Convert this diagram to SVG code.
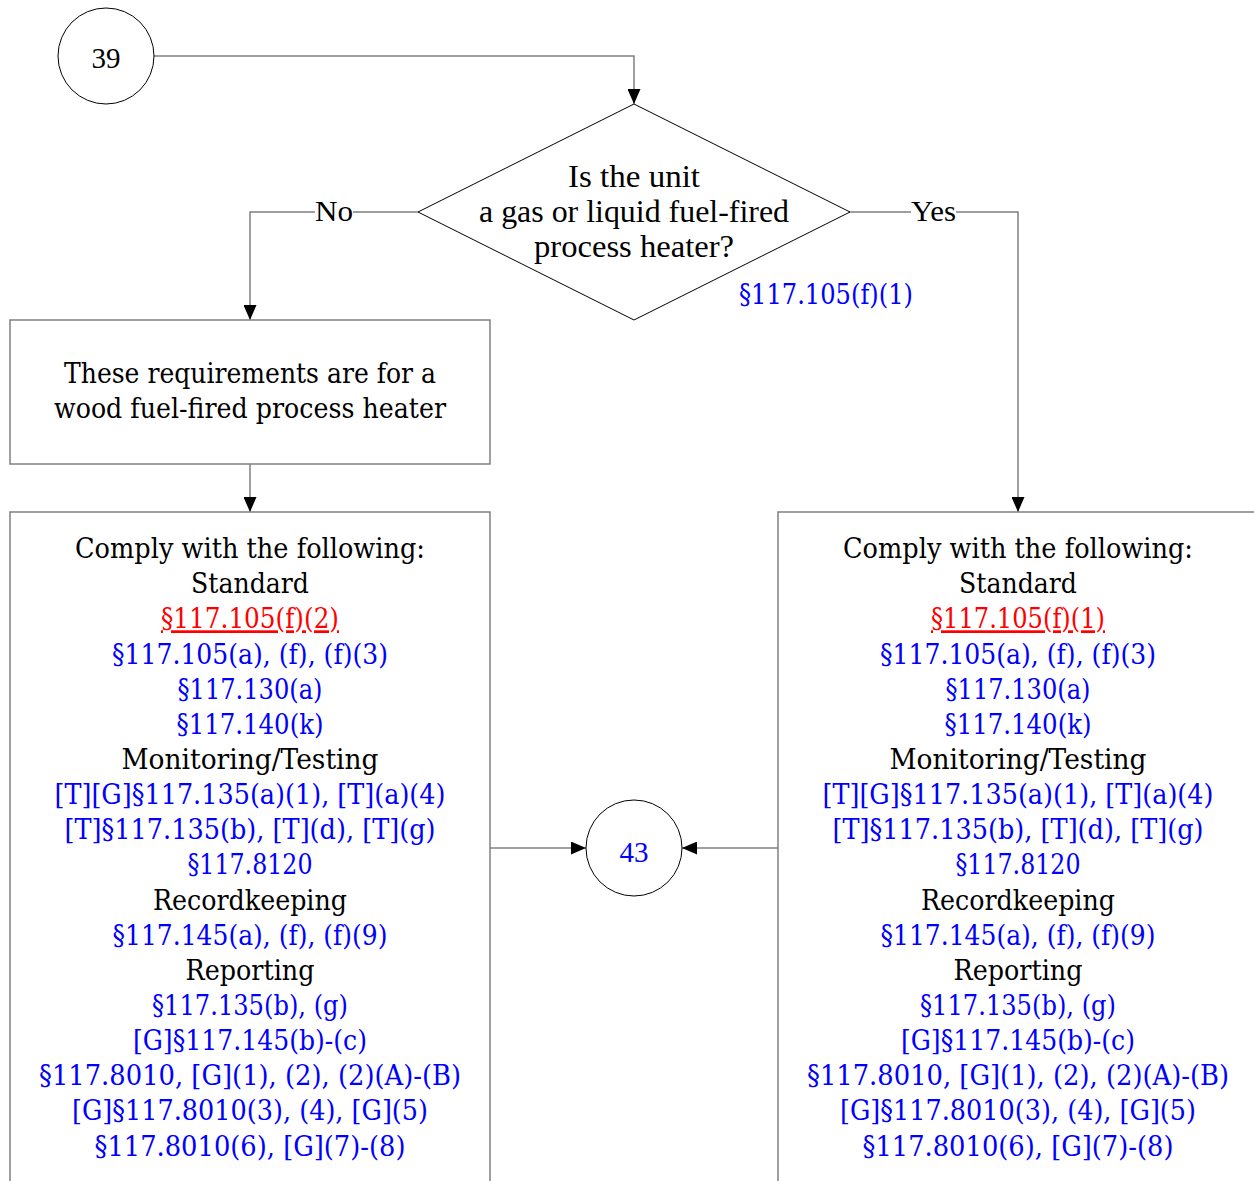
<svg xmlns="http://www.w3.org/2000/svg" width="1254" height="1181" viewBox="0 0 1254 1181">
<defs>
<marker id="arr" markerWidth="15" markerHeight="13" refX="15" refY="6.5" orient="auto" markerUnits="userSpaceOnUse">
<path d="M0,0 L15,6.5 L0,13 Z" fill="#000"/>
</marker>
<style>
.conn{fill:none;stroke:#808080;stroke-width:1.5}
.box{fill:#fff;stroke:#808080;stroke-width:1.5}
.shape{fill:#fff;stroke:#000;stroke-width:1}
.t{font-family:"DejaVu Serif","Liberation Serif",serif;font-size:27px;text-anchor:middle;fill:#000}
.d{font-family:"Liberation Serif","Times New Roman",serif;font-size:31px;text-anchor:middle;fill:#000}
.l{font-family:"Liberation Serif","Times New Roman",serif;font-size:29px;text-anchor:middle;fill:#000}
.b{fill:#0000ff}
.r{fill:#ff0000;text-decoration:underline}
</style>
</defs>
<rect width="1254" height="1181" fill="#fff"/>
<g id="connectors">
<path class="conn" d="M154,56 H634 V104" marker-end="url(#arr)"/>
<path class="conn" d="M418,212 H250 V320" marker-end="url(#arr)"/>
<path class="conn" d="M850,212 H1018 V512" marker-end="url(#arr)"/>
<path class="conn" d="M250,464 V512" marker-end="url(#arr)"/>
<path class="conn" d="M490,848 H586" marker-end="url(#arr)"/>
<path class="conn" d="M778,848 H682" marker-end="url(#arr)"/>
<rect x="315" y="198" width="38" height="28" fill="#fff"/>
<text class="l" x="334" y="221" textLength="38" lengthAdjust="spacingAndGlyphs">No</text>
<rect x="911" y="198" width="45" height="28" fill="#fff"/>
<text class="l" x="933.5" y="221" textLength="45" lengthAdjust="spacingAndGlyphs">Yes</text>
</g>
<g id="n39">
<circle class="shape" cx="106" cy="56" r="48"/>
<text class="l" x="106" y="68" font-size="32">39</text>
</g>
<g id="decision">
<polygon class="shape" points="634,104 850,212 634,320 418,212"/>
<text class="d" x="634" y="187" textLength="132" lengthAdjust="spacingAndGlyphs">Is the unit</text>
<text class="d" x="634" y="222" textLength="310" lengthAdjust="spacingAndGlyphs">a gas or liquid fuel-fired</text>
<text class="d" x="634" y="257" textLength="200" lengthAdjust="spacingAndGlyphs">process heater?</text>
<text class="t b" x="826" y="304" textLength="174" lengthAdjust="spacingAndGlyphs">§117.105(f)(1)</text>
</g>
<g id="wood">
<rect class="box" x="10" y="320" width="480" height="144"/>
<text class="t" x="250" y="383" textLength="372" lengthAdjust="spacingAndGlyphs">These requirements are for a</text>
<text class="t" x="250" y="418" textLength="392" lengthAdjust="spacingAndGlyphs">wood fuel-fired process heater</text>
</g>
<g id="comply-left">
<rect class="box" x="10" y="512" width="480" height="700"/>
<text class="t" x="250" y="558" textLength="350" lengthAdjust="spacingAndGlyphs">Comply with the following:</text>
<text class="t" x="250" y="593.2" textLength="118" lengthAdjust="spacingAndGlyphs">Standard</text>
<text class="t r" x="250" y="628.3" textLength="178" lengthAdjust="spacingAndGlyphs">§117.105(f)(2)</text>
<text class="t b" x="250" y="663.5" textLength="276" lengthAdjust="spacingAndGlyphs">§117.105(a), (f), (f)(3)</text>
<text class="t b" x="250" y="698.6" textLength="145" lengthAdjust="spacingAndGlyphs">§117.130(a)</text>
<text class="t b" x="250" y="733.8" textLength="147" lengthAdjust="spacingAndGlyphs">§117.140(k)</text>
<text class="t" x="250" y="768.9" textLength="257" lengthAdjust="spacingAndGlyphs">Monitoring/Testing</text>
<text class="t b" x="250" y="804.1" textLength="391" lengthAdjust="spacingAndGlyphs">[T][G]§117.135(a)(1), [T](a)(4)</text>
<text class="t b" x="250" y="839.2" textLength="371" lengthAdjust="spacingAndGlyphs">[T]§117.135(b), [T](d), [T](g)</text>
<text class="t b" x="250" y="874.4" textLength="125" lengthAdjust="spacingAndGlyphs">§117.8120</text>
<text class="t" x="250" y="909.5" textLength="194" lengthAdjust="spacingAndGlyphs">Recordkeeping</text>
<text class="t b" x="250" y="944.7" textLength="275" lengthAdjust="spacingAndGlyphs">§117.145(a), (f), (f)(9)</text>
<text class="t" x="250" y="979.8" textLength="129" lengthAdjust="spacingAndGlyphs">Reporting</text>
<text class="t b" x="250" y="1015" textLength="196" lengthAdjust="spacingAndGlyphs">§117.135(b), (g)</text>
<text class="t b" x="250" y="1050.1" textLength="234" lengthAdjust="spacingAndGlyphs">[G]§117.145(b)-(c)</text>
<text class="t b" x="250" y="1085.3" textLength="422" lengthAdjust="spacingAndGlyphs">§117.8010, [G](1), (2), (2)(A)-(B)</text>
<text class="t b" x="250" y="1120.4" textLength="356" lengthAdjust="spacingAndGlyphs">[G]§117.8010(3), (4), [G](5)</text>
<text class="t b" x="250" y="1155.6" textLength="311" lengthAdjust="spacingAndGlyphs">§117.8010(6), [G](7)-(8)</text>
</g>
<g id="comply-right">
<rect class="box" x="778" y="512" width="500" height="700"/>
<text class="t" x="1018" y="558" textLength="350" lengthAdjust="spacingAndGlyphs">Comply with the following:</text>
<text class="t" x="1018" y="593.2" textLength="118" lengthAdjust="spacingAndGlyphs">Standard</text>
<text class="t r" x="1018" y="628.3" textLength="174" lengthAdjust="spacingAndGlyphs">§117.105(f)(1)</text>
<text class="t b" x="1018" y="663.5" textLength="276" lengthAdjust="spacingAndGlyphs">§117.105(a), (f), (f)(3)</text>
<text class="t b" x="1018" y="698.6" textLength="145" lengthAdjust="spacingAndGlyphs">§117.130(a)</text>
<text class="t b" x="1018" y="733.8" textLength="147" lengthAdjust="spacingAndGlyphs">§117.140(k)</text>
<text class="t" x="1018" y="768.9" textLength="257" lengthAdjust="spacingAndGlyphs">Monitoring/Testing</text>
<text class="t b" x="1018" y="804.1" textLength="391" lengthAdjust="spacingAndGlyphs">[T][G]§117.135(a)(1), [T](a)(4)</text>
<text class="t b" x="1018" y="839.2" textLength="371" lengthAdjust="spacingAndGlyphs">[T]§117.135(b), [T](d), [T](g)</text>
<text class="t b" x="1018" y="874.4" textLength="125" lengthAdjust="spacingAndGlyphs">§117.8120</text>
<text class="t" x="1018" y="909.5" textLength="194" lengthAdjust="spacingAndGlyphs">Recordkeeping</text>
<text class="t b" x="1018" y="944.7" textLength="275" lengthAdjust="spacingAndGlyphs">§117.145(a), (f), (f)(9)</text>
<text class="t" x="1018" y="979.8" textLength="129" lengthAdjust="spacingAndGlyphs">Reporting</text>
<text class="t b" x="1018" y="1015" textLength="196" lengthAdjust="spacingAndGlyphs">§117.135(b), (g)</text>
<text class="t b" x="1018" y="1050.1" textLength="234" lengthAdjust="spacingAndGlyphs">[G]§117.145(b)-(c)</text>
<text class="t b" x="1018" y="1085.3" textLength="422" lengthAdjust="spacingAndGlyphs">§117.8010, [G](1), (2), (2)(A)-(B)</text>
<text class="t b" x="1018" y="1120.4" textLength="356" lengthAdjust="spacingAndGlyphs">[G]§117.8010(3), (4), [G](5)</text>
<text class="t b" x="1018" y="1155.6" textLength="311" lengthAdjust="spacingAndGlyphs">§117.8010(6), [G](7)-(8)</text>
</g>
<g id="n43">
<circle class="shape" cx="634" cy="848" r="48"/>
<text class="l b" x="634" y="862" font-size="32">43</text>
</g>
</svg>
